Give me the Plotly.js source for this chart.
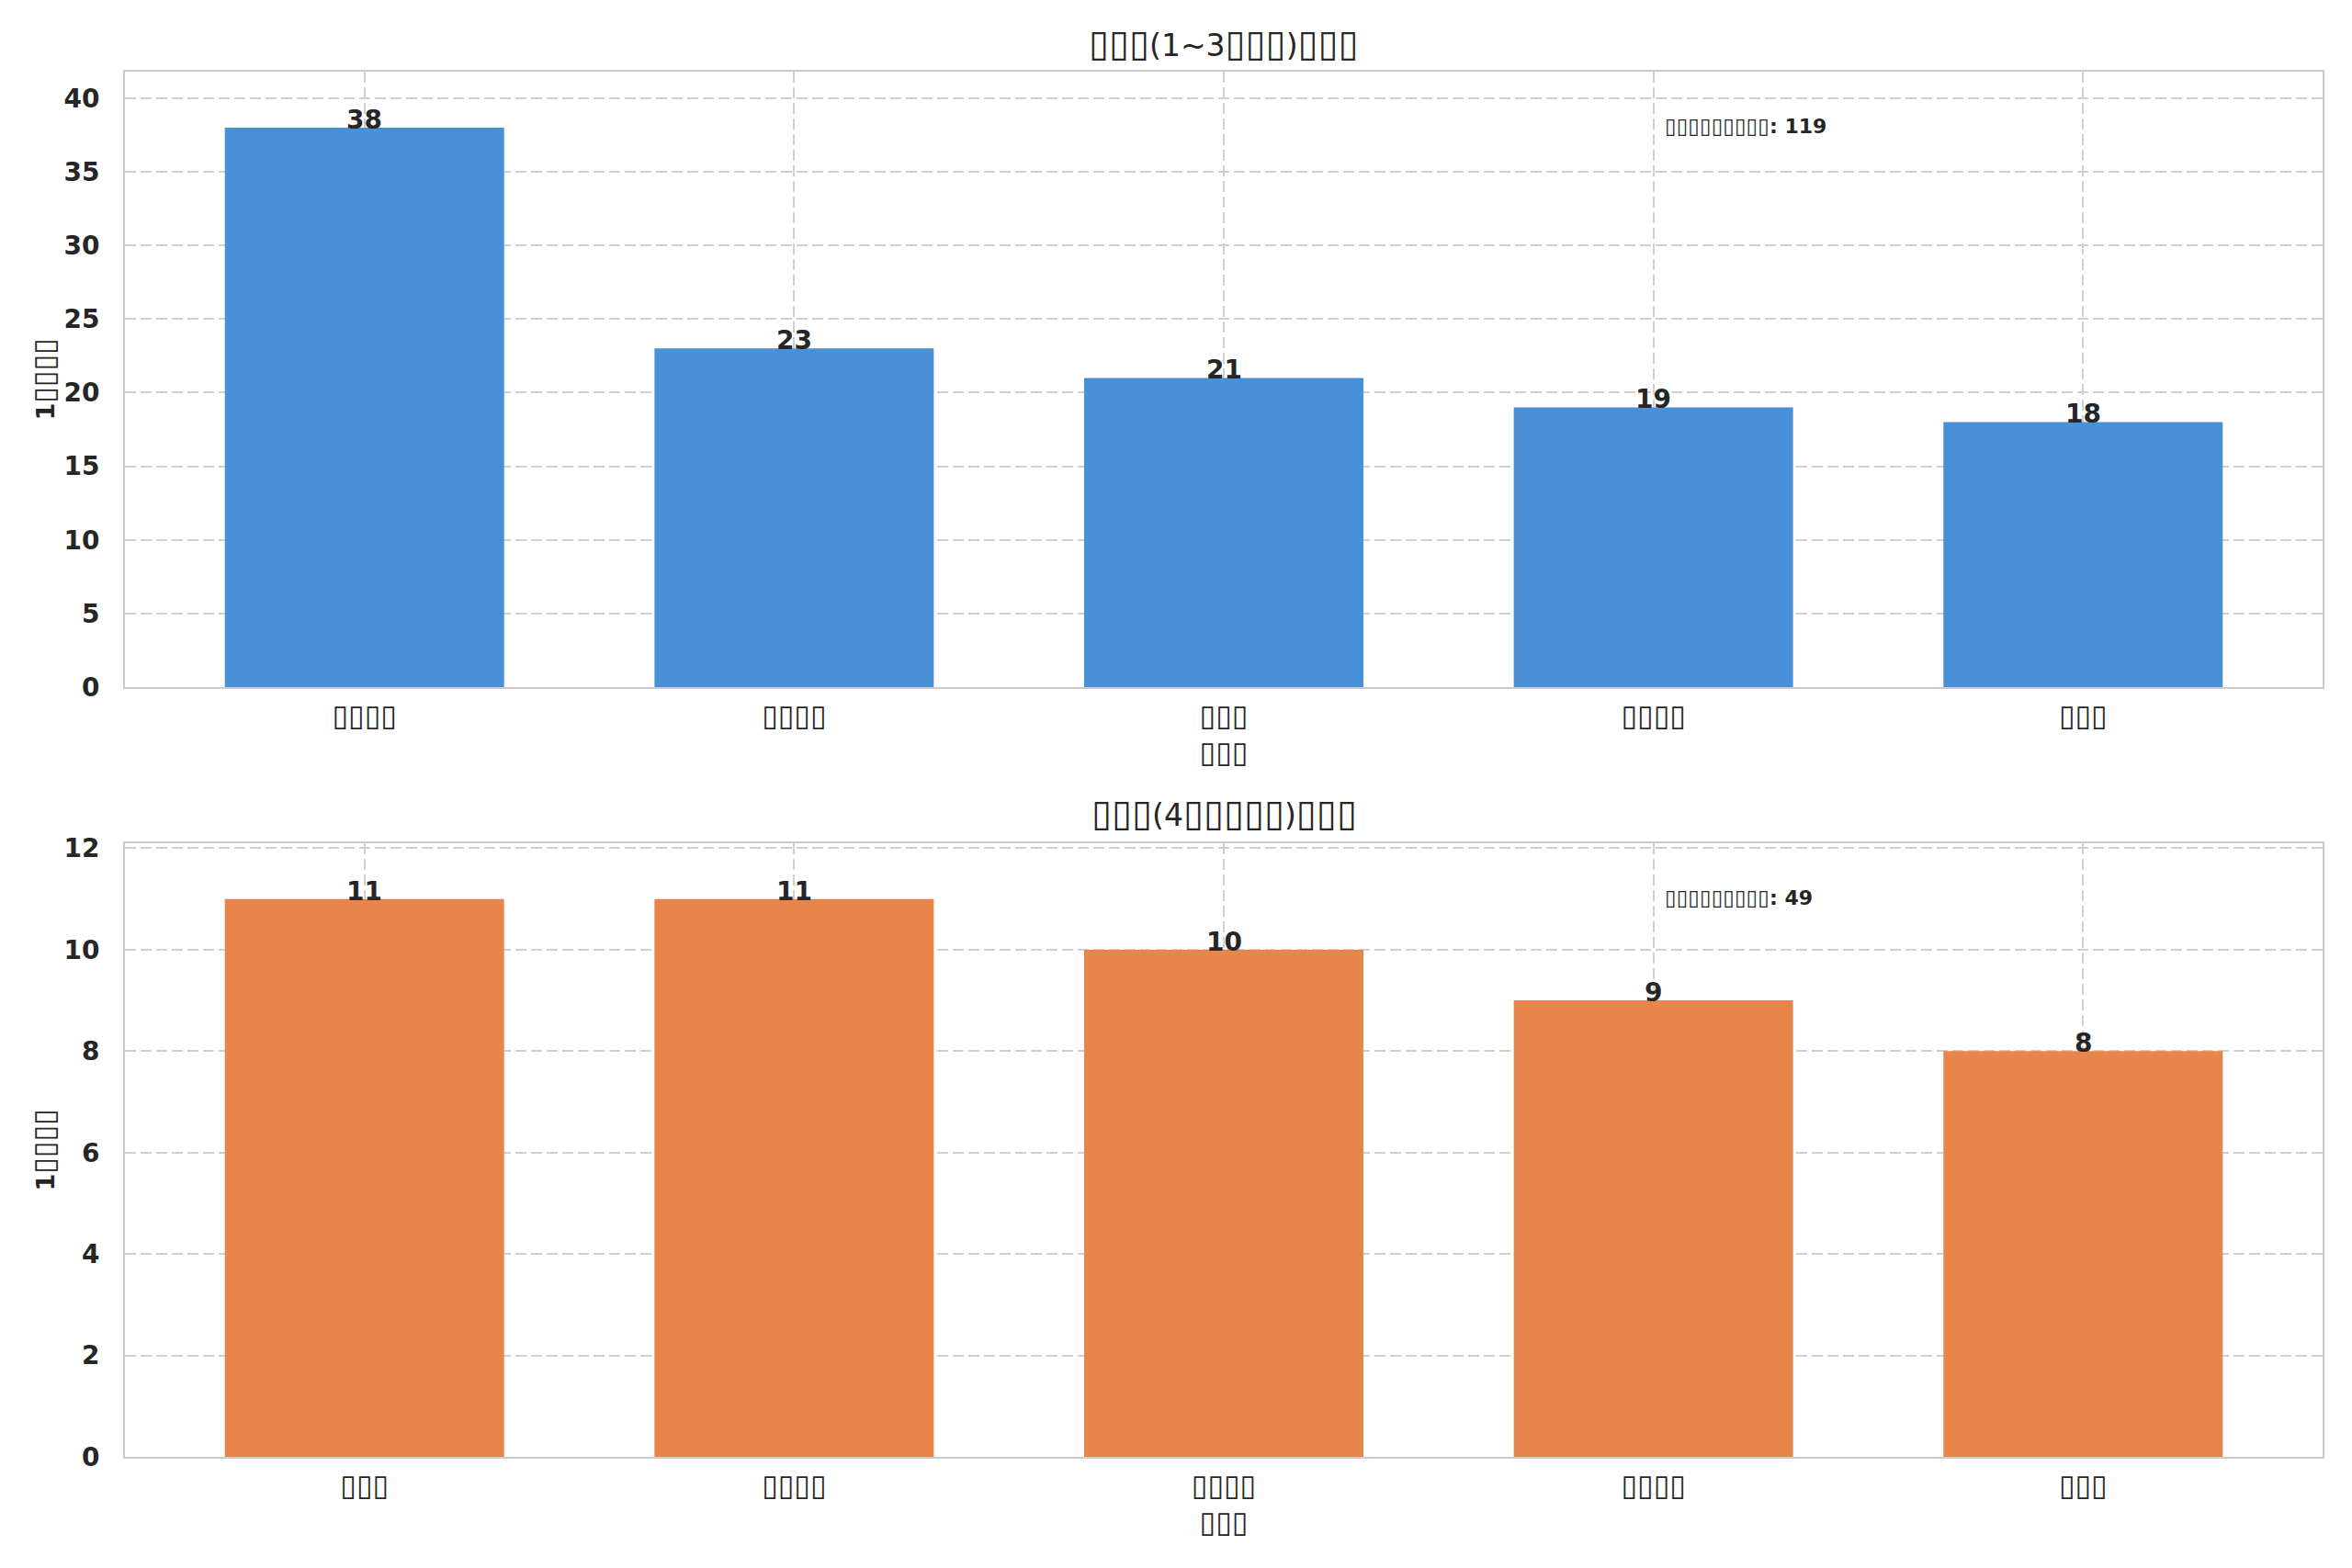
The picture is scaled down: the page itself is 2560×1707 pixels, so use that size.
<!DOCTYPE html>
<html>
<head>
<meta charset="utf-8">
<script src="https://cdn.plot.ly/plotly-3.0.1.min.js"></script>
<style>
  html, body { margin: 0; padding: 0; background: #fff; }
  #graph { width: 2560px; height: 1707px; }
</style>
</head>
<body>
<div id="graph"></div>
<script>
// Data (labels drawn as missing-glyph boxes there).
var topLabels = ['▯▯▯▯', '▯▯▯▯', '▯▯▯', '▯▯▯▯', '▯▯▯'];
var topValues = [38, 23, 21, 19, 18];
var bottomLabels = ['▯▯▯', '▯▯▯▯', '▯▯▯▯', '▯▯▯▯', '▯▯▯'];
var bottomValues = [11, 11, 10, 9, 8];

var topTitle = '▯▯▯(1~3▯▯▯)▯▯▯';
var bottomTitle = '▯▯▯(4▯▯▯▯▯)▯▯▯';
var xTitle = '▯▯▯';
var yTitle = '1▯▯▯▯';
var totalLabel = '▯▯▯▯▯▯▯▯▯';

var chart = (function(){

  'use strict';

  var graph = document.getElementById('graph');

  var FONT = '"DejaVu Sans", "Liberation Sans", sans-serif';
  var TEXT = '#262626';
  var GRID = '#d0d0d0';
  var SPINE = '#cccccc';

  var conf = { displayModeBar: false, staticPlot: true };

  function sum( arr ){
    return arr.reduce(function( a, b ){ return a + b; }, 0);
  }

  function positions( arr ){
    return arr.map(function( v, i ){ return i; });
  }

  // the box glyphs are a bit narrow, so give them their own size
  function boxify( text, size ){
    return text.replace( /(▯+)/g, '<span style="font-size:' + size + 'px">$1</span>' );
  }

  function barTrace( values, color, xa, ya ){
    return {
      type: 'bar',
      x: positions( values ),
      y: values,
      width: 0.65,
      xaxis: xa,
      yaxis: ya,
      marker: { color: color, line: { width: 0 } },
      hoverinfo: 'skip'
    };
  }

  function xAxis( labels, anchor ){
    return {
      anchor: anchor,
      range: [-0.5575, labels.length - 1 + 0.5575],
      tickmode: 'array',
      tickvals: positions( labels ),
      ticktext: labels,
      ticks: '',
      ticklabelstandoff: 2,
      tickfont: { family: FONT, size: 32, color: TEXT },
      showgrid: true,
      gridcolor: GRID,
      gridwidth: 2,
      griddash: '12px,5px',
      showline: true,
      linecolor: SPINE,
      linewidth: 2,
      mirror: true,
      zeroline: false,
      fixedrange: true,
      title: { text: xTitle, font: { family: FONT, size: 32, color: TEXT }, standoff: 10 }
    };
  }

  function yAxis( values, dtick, domain, anchor ){
    return {
      anchor: anchor,
      domain: domain,
      range: [0, Math.max.apply( null, values ) * 1.1],
      dtick: dtick,
      ticks: '',
      ticklabelstandoff: 20,
      tickfont: { family: FONT, size: 28, color: TEXT, weight: 'bold' },
      showgrid: true,
      gridcolor: GRID,
      gridwidth: 2,
      griddash: '12px,5px',
      showline: true,
      linecolor: SPINE,
      linewidth: 2,
      mirror: true,
      zeroline: false,
      fixedrange: true,
      title: {
        text: boxify( yTitle, 32 ),
        font: { family: FONT, size: 27, color: TEXT, weight: 'bold' },
        standoff: 2
      }
    };
  }

  // value labels sitting on the bar tops
  function valueNotes( values, xa, ya ){
    return values.map(function( v, i ){
      return {
        x: i, y: v, xref: xa, yref: ya,
        text: String( v ),
        showarrow: false,
        xanchor: 'center', yanchor: 'bottom',
        yshift: -10,
        font: { family: FONT, size: 28, color: TEXT, weight: 'bold' }
      };
    });
  }

  function totalNote( values, xa, ya ){
    return {
      x: 0.7, y: 0.934, xref: xa + ' domain', yref: ya + ' domain',
      text: boxify( totalLabel, 23 ) + ': ' + sum( values ),
      showarrow: false,
      xanchor: 'left', yanchor: 'top',
      font: { family: FONT, size: 22, color: TEXT, weight: 'bold' }
    };
  }

  function titleNote( text, y ){
    return {
      x: 0.5, y: y, xref: 'paper', yref: 'paper',
      text: boxify( text, 40 ),
      showarrow: false,
      xanchor: 'center', yanchor: 'middle',
      font: { family: FONT, size: 33, color: TEXT }
    };
  }

  function init(){
    var data = [
      barTrace( topValues, '#4A90D9', 'x', 'y' ),
      barTrace( bottomValues, '#E8854A', 'x2', 'y2' )
    ];

    var notes = []
      .concat( valueNotes( topValues, 'x', 'y' ) )
      .concat( valueNotes( bottomValues, 'x2', 'y2' ) );
    notes.push( totalNote( topValues, 'x', 'y' ) );
    notes.push( totalNote( bottomValues, 'x2', 'y2' ) );
    notes.push( titleNote( topTitle, 1.0205 ) );
    notes.push( titleNote( bottomTitle, 0.4648 ) );

    var layout = {
      width: 2560,
      height: 1707,
      margin: { l: 136, r: 32, t: 78, b: 121 },
      paper_bgcolor: '#ffffff',
      plot_bgcolor: '#ffffff',
      showlegend: false,
      font: { family: FONT, color: TEXT },
      xaxis: xAxis( topLabels, 'y' ),
      yaxis: yAxis( topValues, 5, [0.5557, 1], 'x' ),
      xaxis2: xAxis( bottomLabels, 'y2' ),
      yaxis2: yAxis( bottomValues, 2, [0, 0.4430], 'x2' ),
      annotations: notes
    };

    Plotly.newPlot( graph, data, layout, conf );
  }

  return { init: init };

})();

chart.init();
</script>
</body>
</html>
